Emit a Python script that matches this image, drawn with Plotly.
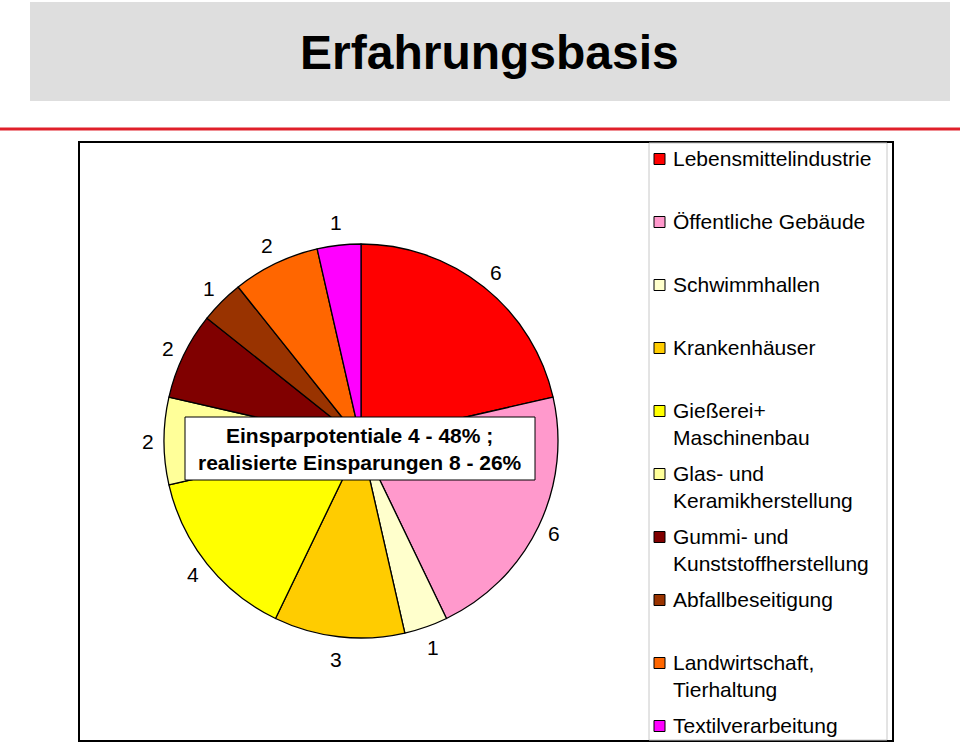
import math
import plotly.graph_objects as go

# ---- data ----
categories = ["Lebensmittelindustrie", "Öffentliche Gebäude", "Schwimmhallen", "Krankenhäuser",
              "Gießerei+ Maschinenbau", "Glas- und Keramikherstellung", "Gummi- und Kunststoffherstellung",
              "Abfallbeseitigung", "Landwirtschaft, Tierhaltung", "Textilverarbeitung"]
legend_labels = ["Lebensmittelindustrie", "Öffentliche Gebäude", "Schwimmhallen", "Krankenhäuser",
                 "Gießerei+<br>Maschinenbau", "Glas- und<br>Keramikherstellung", "Gummi- und<br>Kunststoffherstellung",
                 "Abfallbeseitigung", "Landwirtschaft,<br>Tierhaltung", "Textilverarbeitung"]
values = [6, 6, 1, 3, 4, 2, 2, 1, 2, 1]
colors = ["#FF0000", "#FF99CC", "#FFFFCC", "#FFCC00", "#FFFF00", "#FFFF99", "#800000", "#993300", "#FF6600", "#FF00FF"]
title_text = "Erfahrungsbasis"
box_text = "<b>Einsparpotentiale 4 - 48% ;<br>realisierte Einsparungen 8 - 26%</b>"

W, H = 960, 743
def px(x): return x / W
def py(y): return 1 - y / H

FONT = "Liberation Sans, Arial, sans-serif"

cx, cy, R = 361, 441, 197

fig = go.Figure()
fig.add_trace(go.Pie(
    labels=categories, values=values, sort=False, direction="clockwise", rotation=0,
    marker=dict(colors=colors, line=dict(color="black", width=1.3)),
    textinfo="none", hoverinfo="label+value", showlegend=False,
    domain=dict(x=[px(cx - R), px(cx + R)], y=[py(cy + R), py(cy - R)]),
))

shapes = []
annotations = []

# title band
shapes.append(dict(type="rect", xref="paper", yref="paper", x0=px(30), x1=px(950), y0=py(101), y1=py(2),
                   fillcolor="#DEDEDE", line=dict(width=0), layer="below"))
annotations.append(dict(text="<b>" + title_text + "</b>", xref="paper", yref="paper", x=px(490), y=py(53),
                        showarrow=False, xanchor="center", yanchor="middle",
                        font=dict(family="Liberation Sans Narrow, Liberation Sans, Arial", size=48, color="black")))
# red line
shapes.append(dict(type="line", xref="paper", yref="paper", x0=0, x1=1, y0=py(129), y1=py(129),
                   line=dict(color="#E0202A", width=3)))
# chart frame
shapes.append(dict(type="rect", xref="paper", yref="paper", x0=px(79), x1=px(893), y0=py(741), y1=py(142),
                   line=dict(color="black", width=2), fillcolor="rgba(0,0,0,0)"))
# legend box
shapes.append(dict(type="rect", xref="paper", yref="paper", x0=px(649), x1=px(887), y0=py(740), y1=py(143),
                   line=dict(color="#C8C8C8", width=1), fillcolor="rgba(0,0,0,0)"))

# slice value labels
total = sum(values)
acc = 0
for v in values:
    mid = (acc + v / 2) / total * 2 * math.pi
    acc += v
    r = R + 24 - 8 * abs(math.sin(mid))
    lx = cx + r * math.sin(mid)
    ly = cy - r * math.cos(mid)
    annotations.append(dict(text=str(v), xref="paper", yref="paper", x=px(lx), y=py(ly), showarrow=False,
                            xanchor="center", yanchor="middle", font=dict(family=FONT, size=21, color="black")))

# legend
for i, (lab, col) in enumerate(zip(legend_labels, colors)):
    yc = 159 + 63.0 * i
    shapes.append(dict(type="rect", xref="paper", yref="paper", x0=px(654), x1=px(665), y0=py(yc + 5.5),
                       y1=py(yc - 5.5), fillcolor=col, line=dict(color="black", width=1)))
    annotations.append(dict(text=lab, xref="paper", yref="paper", x=px(671), y=py(yc - 14), showarrow=False,
                            xanchor="left", yanchor="top", align="left",
                            font=dict(family=FONT, size=21, color="black")))

# text box
shapes.append(dict(type="rect", xref="paper", yref="paper", x0=px(185), x1=px(535), y0=py(480), y1=py(417),
                   fillcolor="white", line=dict(color="black", width=1), layer="above"))
annotations.append(dict(text=box_text, xref="paper", yref="paper", x=px(360), y=py(449), showarrow=False,
                        xanchor="center", yanchor="middle", align="center",
                        font=dict(family=FONT, size=21, color="black")))

fig.update_layout(width=W, height=H, margin=dict(l=0, r=0, t=0, b=0), paper_bgcolor="white",
                  plot_bgcolor="white", shapes=shapes, annotations=annotations)
fig.write_html("out.html", config={"displayModeBar": False},
               post_script="document.body.style.margin='0px';document.body.style.padding='0px';")
